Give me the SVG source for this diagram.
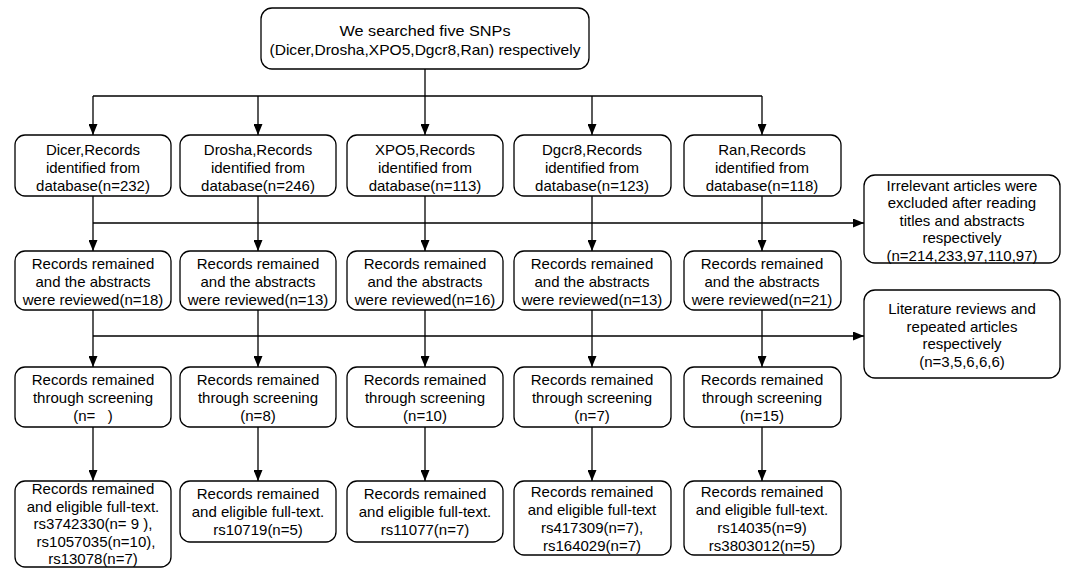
<svg xmlns="http://www.w3.org/2000/svg" width="1065" height="569" viewBox="0 0 1065 569">
<defs>
<marker id="ah" markerUnits="userSpaceOnUse" markerWidth="11" markerHeight="9" refX="11" refY="4.5" orient="auto">
<path d="M0,0 L11,4.5 L0,9 z" fill="#000"/>
</marker>
<style>
.b{fill:#fff;stroke:#000;stroke-width:1.3}
.t{font-family:"Liberation Sans",Arial,Helvetica,sans-serif;font-size:15px;fill:#000;text-anchor:middle}
.tn{font-family:"Liberation Sans",Arial,Helvetica,sans-serif;font-size:14.5px;fill:#000;text-anchor:middle}
.c{fill:none;stroke:#000;stroke-width:1.3}
.a{fill:none;stroke:#000;stroke-width:1.3;marker-end:url(#ah)}
</style>
</defs>
<rect width="1065" height="569" fill="#fff"/>

<g id="connectors">
<line class="c" x1="425" y1="69" x2="425" y2="96"/>
<line class="c" x1="93" y1="96" x2="762" y2="96"/>
<line class="a" x1="93" y1="96" x2="93" y2="135"/>
<line class="a" x1="258" y1="96" x2="258" y2="135"/>
<line class="a" x1="425" y1="96" x2="425" y2="135"/>
<line class="a" x1="592" y1="96" x2="592" y2="135"/>
<line class="a" x1="762" y1="96" x2="762" y2="135"/>

<line class="a" x1="93" y1="196" x2="93" y2="251"/>
<line class="a" x1="258" y1="196" x2="258" y2="251"/>
<line class="a" x1="425" y1="196" x2="425" y2="251"/>
<line class="a" x1="592" y1="196" x2="592" y2="251"/>
<line class="a" x1="762" y1="196" x2="762" y2="251"/>
<line class="a" x1="93" y1="223" x2="864" y2="223"/>

<line class="a" x1="93" y1="310" x2="93" y2="367"/>
<line class="a" x1="258" y1="310" x2="258" y2="367"/>
<line class="a" x1="425" y1="310" x2="425" y2="367"/>
<line class="a" x1="592" y1="310" x2="592" y2="367"/>
<line class="a" x1="762" y1="310" x2="762" y2="367"/>
<line class="a" x1="93" y1="336" x2="864" y2="336"/>

<line class="a" x1="93" y1="427" x2="93" y2="481"/>
<line class="a" x1="258" y1="427" x2="258" y2="481"/>
<line class="a" x1="425" y1="427" x2="425" y2="481"/>
<line class="a" x1="592" y1="427" x2="592" y2="481"/>
<line class="a" x1="762" y1="427" x2="762" y2="481"/>
</g>

<g id="top">
<rect class="b" x="261" y="8" width="328" height="61" rx="11"/>
<text class="tn" x="425" y="36" textLength="171" lengthAdjust="spacingAndGlyphs">We searched five SNPs</text>
<text class="tn" x="425" y="55" textLength="311" lengthAdjust="spacingAndGlyphs">(Dicer,Drosha,XPO5,Dgcr8,Ran) respectively</text>
</g>

<g id="dicer1"><rect class="b" x="15" y="135" width="156" height="61" rx="10"/>
<text class="t" x="93" y="154.5">Dicer,Records</text><text class="t" x="93" y="172.5">identified from</text><text class="t" x="93" y="190.5">database(n=232)</text></g>
<g id="drosha1"><rect class="b" x="180" y="135" width="156" height="61" rx="10"/>
<text class="t" x="258" y="154.5">Drosha,Records</text><text class="t" x="258" y="172.5">identified from</text><text class="t" x="258" y="190.5">database(n=246)</text></g>
<g id="xpo51"><rect class="b" x="347" y="135" width="156" height="61" rx="10"/>
<text class="t" x="425" y="154.5">XPO5,Records</text><text class="t" x="425" y="172.5">identified from</text><text class="t" x="425" y="190.5">database(n=113)</text></g>
<g id="dgcr81"><rect class="b" x="514" y="135" width="157" height="61" rx="10"/>
<text class="t" x="592" y="154.5">Dgcr8,Records</text><text class="t" x="592" y="172.5">identified from</text><text class="t" x="592" y="190.5">database(n=123)</text></g>
<g id="ran1"><rect class="b" x="684" y="135" width="157" height="61" rx="10"/>
<text class="t" x="762" y="154.5">Ran,Records</text><text class="t" x="762" y="172.5">identified from</text><text class="t" x="762" y="190.5">database(n=118)</text></g>

<g id="irrelevant"><rect class="b" x="864" y="175" width="196" height="88" rx="11"/>
<text class="t" x="962" y="190.5">Irrelevant articles were</text><text class="t" x="962" y="208">excluded after reading</text><text class="t" x="962" y="225.5">titles and abstracts</text><text class="t" x="962" y="243">respectively</text><text class="t" x="962" y="260.5">(n=214,233,97,110,97)</text></g>

<g id="dicer2"><rect class="b" x="15" y="251" width="156" height="59" rx="10"/>
<text class="t" x="93" y="268.5">Records remained</text><text class="t" x="93" y="286.5">and the abstracts</text><text class="t" x="93" y="304.5">were reviewed(n=18)</text></g>
<g id="drosha2"><rect class="b" x="180" y="251" width="156" height="59" rx="10"/>
<text class="t" x="258" y="268.5">Records remained</text><text class="t" x="258" y="286.5">and the abstracts</text><text class="t" x="258" y="304.5">were reviewed(n=13)</text></g>
<g id="xpo52"><rect class="b" x="347" y="251" width="156" height="59" rx="10"/>
<text class="t" x="425" y="268.5">Records remained</text><text class="t" x="425" y="286.5">and the abstracts</text><text class="t" x="425" y="304.5">were reviewed(n=16)</text></g>
<g id="dgcr82"><rect class="b" x="514" y="251" width="157" height="59" rx="10"/>
<text class="t" x="592" y="268.5">Records remained</text><text class="t" x="592" y="286.5">and the abstracts</text><text class="t" x="592" y="304.5">were reviewed(n=13)</text></g>
<g id="ran2"><rect class="b" x="684" y="251" width="157" height="59" rx="10"/>
<text class="t" x="762" y="268.5">Records remained</text><text class="t" x="762" y="286.5">and the abstracts</text><text class="t" x="762" y="304.5">were reviewed(n=21)</text></g>

<g id="literature"><rect class="b" x="864" y="290" width="196" height="88" rx="11"/>
<text class="t" x="962" y="313.5">Literature reviews and</text><text class="t" x="962" y="331.5">repeated articles</text><text class="t" x="962" y="349">respectively</text><text class="t" x="962" y="366.5">(n=3,5,6,6,6)</text></g>

<g id="dicer3"><rect class="b" x="15" y="367" width="156" height="60" rx="10"/>
<text class="t" x="93" y="384.5">Records remained</text><text class="t" x="93" y="402.5">through screening</text><text class="t" x="93" y="420.5" xml:space="preserve">(n=   )</text></g>
<g id="drosha3"><rect class="b" x="180" y="367" width="156" height="60" rx="10"/>
<text class="t" x="258" y="384.5">Records remained</text><text class="t" x="258" y="402.5">through screening</text><text class="t" x="258" y="420.5">(n=8)</text></g>
<g id="xpo53"><rect class="b" x="347" y="367" width="156" height="60" rx="10"/>
<text class="t" x="425" y="384.5">Records remained</text><text class="t" x="425" y="402.5">through screening</text><text class="t" x="425" y="420.5">(n=10)</text></g>
<g id="dgcr83"><rect class="b" x="514" y="367" width="157" height="60" rx="10"/>
<text class="t" x="592" y="384.5">Records remained</text><text class="t" x="592" y="402.5">through screening</text><text class="t" x="592" y="420.5">(n=7)</text></g>
<g id="ran3"><rect class="b" x="684" y="367" width="157" height="60" rx="10"/>
<text class="t" x="762" y="384.5">Records remained</text><text class="t" x="762" y="402.5">through screening</text><text class="t" x="762" y="420.5">(n=15)</text></g>

<g id="dicer4"><rect class="b" x="15" y="481" width="156" height="86" rx="10"/>
<text class="t" x="93" y="494">Records remained</text><text class="t" x="93" y="511.5">and eligible full-text.</text><text class="t" x="93" y="529" xml:space="preserve">rs3742330(n= 9 ),</text><text class="t" x="96" y="546.5">rs1057035(n=10),</text><text class="t" x="93" y="563.5">rs13078(n=7)</text></g>
<g id="drosha4"><rect class="b" x="180" y="481" width="156" height="61" rx="10"/>
<text class="t" x="258" y="499">Records remained</text><text class="t" x="258" y="517">and eligible full-text.</text><text class="t" x="258" y="535">rs10719(n=5)</text></g>
<g id="xpo54"><rect class="b" x="347" y="481" width="156" height="61" rx="10"/>
<text class="t" x="425" y="499">Records remained</text><text class="t" x="425" y="517">and eligible full-text.</text><text class="t" x="425" y="535">rs11077(n=7)</text></g>
<g id="dgcr84"><rect class="b" x="514" y="481" width="157" height="74" rx="10"/>
<text class="t" x="592" y="496.5">Records remained</text><text class="t" x="592" y="514.5">and eligible full-text</text><text class="t" x="592" y="532.5">rs417309(n=7),</text><text class="t" x="592" y="550.5">rs164029(n=7)</text></g>
<g id="ran4"><rect class="b" x="684" y="481" width="157" height="74" rx="10"/>
<text class="t" x="762" y="496.5">Records remained</text><text class="t" x="762" y="514.5">and eligible full-text.</text><text class="t" x="762" y="532.5">rs14035(n=9)</text><text class="t" x="762" y="550.5">rs3803012(n=5)</text></g>
</svg>
